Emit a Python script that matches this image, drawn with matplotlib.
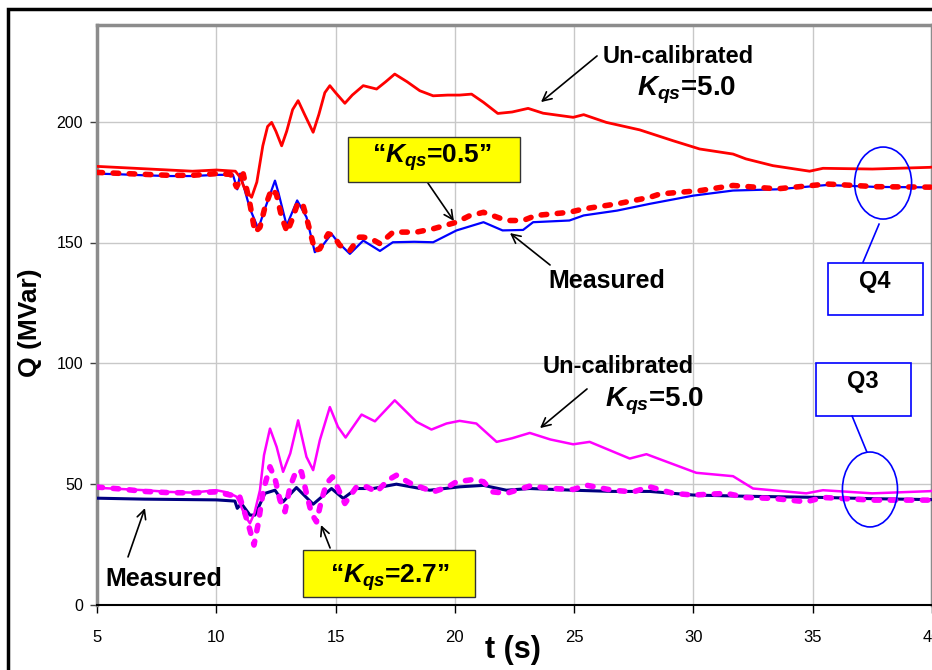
import matplotlib.pyplot as plt
from matplotlib.patches import Rectangle, Ellipse

# ---- data ----
# Q4 (upper group)
t_q4_uncal = [5.0, 6.0, 7.0, 8.0, 9.0, 10.0, 10.8, 11.0, 11.2, 11.48, 11.7, 11.95, 12.15, 12.32,
              12.5, 12.74, 12.95, 13.2, 13.43, 13.7, 14.06, 14.3, 14.55, 14.76, 15.0, 15.39, 15.7,
              16.16, 16.72, 17.1, 17.48, 18.0, 18.53, 19.09, 19.7, 20.2, 20.7, 21.2, 21.8, 22.4,
              23.07, 23.7, 24.96, 25.4, 26.35, 27.75, 29.15, 30.26, 31.66, 32.2, 33.33, 34.87,
              35.43, 37.5, 39.9, 40.0]
q4_uncal = [181.5, 181.0, 180.5, 180.0, 179.5, 180.0, 179.5, 177.0, 172.0, 168.7, 175.0, 190.0,
            198.0, 199.7, 196.0, 190.0, 196.0, 205.0, 208.7, 203.0, 195.6, 203.0, 212.0, 214.9,
            212.0, 207.6, 211.0, 214.9, 213.5, 216.5, 219.7, 216.5, 212.8, 210.7, 211.0, 211.0,
            211.4, 208.0, 203.4, 204.0, 205.5, 203.5, 201.8, 202.9, 199.7, 196.6, 192.1, 188.7,
            186.6, 184.6, 181.8, 179.5, 180.7, 180.4, 181.1, 181.2]

t_q4_k05 = [5.0, 6.0, 7.0, 8.0, 9.0, 10.0, 10.6, 10.85, 11.13, 11.41, 11.62, 11.83, 12.04, 12.32,
            12.52, 12.74, 12.97, 13.16, 13.43, 13.64, 13.85, 14.13, 14.34, 14.69, 14.9, 15.18,
            15.6, 16.0, 16.16, 16.5, 16.86, 17.41, 18.39, 19.1, 20.07, 20.6, 21.2, 22.16, 22.86,
            23.4, 24.8, 25.4, 26.8, 28.17, 28.6, 30.3, 31.66, 33.5, 35.6, 37.66, 39.9, 40.0]
q4_k05 = [179.0, 178.6, 178.2, 177.8, 177.8, 178.5, 178.2, 173.0, 178.4, 166.0, 154.3, 156.3,
          164.6, 172.2, 170.0, 160.5, 154.3, 159.0, 166.7, 165.3, 157.7, 146.7, 147.4, 153.6,
          153.0, 148.8, 146.7, 152.2, 152.2, 151.5, 149.5, 154.3, 154.3, 155.7, 158.4, 161.0,
          162.5, 159.1, 159.1, 161.2, 162.5, 163.9, 166.0, 168.7, 170.1, 171.5, 173.6, 172.2,
          174.2, 173.1, 172.9, 173.0]

t_q4_meas = [5.0, 6.0, 7.0, 8.0, 9.0, 10.0, 10.7, 10.88, 11.0, 11.41, 11.76, 12.04, 12.46, 12.6,
             12.95, 13.39, 13.78, 14.13, 14.4, 14.83, 15.1, 15.6, 16.16, 16.86, 17.4, 18.3,
             19.09, 20.07, 21.2, 22.0, 22.86, 23.28, 24.8, 25.4, 26.8, 28.17, 30.0, 31.66,
             33.5, 35.6, 37.66, 40.0]
q4_meas = [178.5, 178.2, 177.8, 177.5, 177.5, 178.0, 178.0, 172.0, 178.5, 164.0, 155.7, 164.0,
           175.6, 170.8, 157.0, 167.4, 160.5, 146.0, 148.0, 153.6, 150.1, 145.3, 150.8, 146.5,
           150.1, 150.3, 150.1, 155.0, 158.4, 155.0, 155.2, 158.4, 159.1, 161.2, 163.2, 166.0,
           169.4, 171.5, 172.0, 173.8, 173.0, 172.8]

# Q3 (lower group)
t_q3_uncal = [5.0, 6.0, 7.0, 8.0, 9.0, 10.0, 10.5, 10.85, 10.99, 11.2, 11.41, 11.6, 11.83, 12.0,
              12.25, 12.53, 12.8, 13.1, 13.43, 13.78, 14.06, 14.34, 14.76, 15.1, 15.42, 16.09,
              16.65, 17.48, 18.39, 19.02, 19.65, 20.2, 20.9, 21.75, 22.4, 23.14, 24.0, 24.96,
              25.65, 27.33, 28.03, 30.12, 31.66, 32.5, 34.73, 35.43, 37.5, 39.9, 40.0]
q3_uncal = [48.5, 48.0, 47.5, 46.8, 46.5, 47.5, 46.5, 44.8, 42.0, 37.0, 33.8, 38.0, 47.5, 62.0,
            73.0, 65.4, 55.1, 62.7, 76.4, 61.3, 55.8, 68.2, 81.9, 73.7, 69.3, 78.8, 76.0, 84.7,
            75.8, 72.6, 75.1, 76.2, 75.1, 67.5, 69.0, 71.2, 68.5, 66.5, 67.5, 60.6, 62.4, 54.7,
            53.3, 48.2, 46.2, 47.5, 46.2, 47.1, 47.2]

t_q3_k27 = [5.0, 6.0, 7.0, 8.0, 9.0, 10.0, 10.57, 10.96, 11.2, 11.41, 11.58, 11.76, 11.97, 12.25,
            12.46, 12.67, 12.88, 13.09, 13.36, 13.57, 13.78, 13.99, 14.2, 14.41, 14.62, 14.87,
            15.07, 15.39, 15.88, 16.3, 16.72, 17.2, 17.55, 18.11, 19.09, 19.72, 20.07, 20.77,
            21.2, 21.6, 22.16, 23.14, 24.1, 24.96, 25.5, 26.6, 27.47, 28.17, 29.15, 29.98,
            31.38, 32.2, 33.33, 34.73, 35.43, 37.5, 39.9, 40.0]
q3_k27 = [48.8, 48.0, 47.0, 46.5, 46.4, 46.8, 45.5, 45.5, 37.9, 31.0, 24.8, 33.8, 47.5, 57.2,
          52.3, 43.4, 38.6, 48.9, 55.8, 55.1, 46.2, 37.9, 34.4, 43.4, 50.3, 53.0, 48.9, 42.0,
          48.9, 48.9, 46.8, 51.7, 53.7, 50.5, 46.8, 48.9, 51.0, 51.9, 51.0, 46.8, 46.2, 49.2,
          48.2, 47.8, 49.6, 47.5, 46.8, 48.9, 46.2, 45.5, 46.2, 44.5, 44.1, 42.7, 44.5, 43.4,
          43.4, 43.4]

t_q3_meas = [5.0, 6.0, 7.0, 8.0, 9.0, 10.0, 10.78, 10.88, 11.05, 11.41, 11.62, 12.04, 12.46, 12.8,
             13.36, 14.06, 14.83, 15.32, 15.88, 16.57, 17.55, 18.95, 20.2, 21.2, 22.16, 23.14,
             24.96, 26.6, 28.17, 30.0, 32.2, 35.43, 37.5, 40.0]
q3_meas = [44.2, 44.0, 43.8, 43.7, 43.6, 43.5, 43.0, 40.0, 42.0, 37.2, 37.2, 46.2, 47.5, 42.7,
           48.6, 41.7, 48.2, 44.1, 48.2, 48.2, 50.0, 47.5, 48.9, 49.5, 47.5, 48.2, 47.5, 47.0,
           47.0, 45.5, 45.0, 44.5, 44.0, 43.6]

x_ticks = [5, 10, 15, 20, 25, 30, 35, 40]
y_ticks = [0, 50, 100, 150, 200]

# ---- style ----
plt.rcParams['font.family'] = ['Liberation Sans', 'DejaVu Sans']
plt.rcParams['mathtext.fontset'] = 'custom'
plt.rcParams['mathtext.it'] = 'Liberation Sans:italic:bold'
plt.rcParams['mathtext.rm'] = 'Liberation Sans:bold'
plt.rcParams['mathtext.bf'] = 'Liberation Sans:bold'

fig = plt.figure(figsize=(9.32, 6.70), dpi=100)
ax = fig.add_axes([97 / 932, 65 / 670, 835 / 932, 580 / 670])

dot = dict(linestyle=(0, (1.0, 1.9)), dash_capstyle='round', linewidth=4.0)

ax.plot(t_q4_meas, q4_meas, color='#0000FF', lw=1.6, zorder=3)
ax.plot(t_q4_uncal, q4_uncal, color='#FF0000', lw=2.0, zorder=3)
ax.plot(t_q4_k05, q4_k05, color='#FF0000', zorder=4, **dot)

ax.plot(t_q3_meas, q3_meas, color='#000080', lw=2.2, zorder=3)
ax.plot(t_q3_uncal, q3_uncal, color='#FF00FF', lw=1.8, zorder=3)
ax.plot(t_q3_k27, q3_k27, color='#FF00FF', zorder=4, **dot)

ax.set_xlim(5, 40)
ax.set_ylim(0, 240)
ax.set_xticks(x_ticks)
ax.set_yticks(y_ticks)
ax.grid(True, color='#C8C8C8', lw=1)
ax.set_axisbelow(True)

for s in ['left', 'top', 'right']:
    ax.spines[s].set_color('#8C8C8C')
    ax.spines[s].set_linewidth(2.5)
ax.spines['bottom'].set_color('black')
ax.spines['bottom'].set_linewidth(1.5)

ax.tick_params(axis='y', direction='out', length=5, width=1, color='#404040',
               labelsize=11.5, pad=5)
ax.tick_params(axis='x', direction='out', length=6, width=1, color='black',
               labelsize=12, pad=12)
for lab in ax.get_xticklabels():
    lab.set_family(['Liberation Sans Narrow', 'Liberation Sans'])

fig.text(30 / 932, 1 - 323 / 670, 'Q (MVar)', rotation=90, ha='center', va='center',
         fontsize=19, fontweight='bold')
fig.text(513 / 932, 1 - 650 / 670, 't (s)', ha='center', va='center',
         fontsize=22, fontweight='bold')

# outer frame
fig.patches.append(Rectangle((8 / 932, -0.1), 1.2, 1.1 - 9 / 670, transform=fig.transFigure,
                             fill=False, ec='black', lw=2.5, clip_on=False))

arrow = dict(arrowstyle='->', color='black', lw=1.2, shrinkA=0, shrinkB=0, mutation_scale=16)

# Q4 annotations
ax.text(29.37, 224.1, 'Un-calibrated', ha='center', va='baseline', fontsize=17, fontweight='bold')
ax.text(29.73, 211.0, '$K_{qs}$=5.0', ha='center', va='baseline', fontsize=20, fontweight='bold')
ax.annotate('', xy=(23.61, 208.1), xytext=(25.96, 227.2), arrowprops=arrow)

ax.add_patch(Rectangle((15.52, 175.0), 7.21, 18.7, fc='#FFFF00', ec='#333333', lw=1, zorder=5))
ax.text(19.03, 183.0, '\u201c$K_{qs}$=0.5\u201d', ha='center', va='baseline', fontsize=19,
        fontweight='bold', zorder=6)
ax.annotate('', xy=(19.96, 158.9), xytext=(18.87, 174.6), arrowprops=arrow)

ax.text(26.38, 131.0, 'Measured', ha='center', va='baseline', fontsize=18, fontweight='bold')
ax.annotate('', xy=(22.31, 153.9), xytext=(23.99, 140.7), arrowprops=arrow)

ax.add_patch(Ellipse((37.95, 174.6), 2.39, 29.8, fill=False, ec='#0000FF', lw=1.2, zorder=6))
ax.plot([37.78, 37.11], [157.6, 141.9], color='#0000FF', lw=1.2, zorder=6)
ax.add_patch(Rectangle((35.64, 120.0), 3.98, 21.5, fc='white', ec='#0000FF', lw=1.2, zorder=5))
ax.text(37.61, 131.0, 'Q4', ha='center', va='baseline', fontsize=17, fontweight='bold', zorder=6)

# Q3 annotations
ax.text(26.86, 95.9, 'Un-calibrated', ha='center', va='baseline', fontsize=17, fontweight='bold')
ax.text(28.37, 82.0, '$K_{qs}$=5.0', ha='center', va='baseline', fontsize=20, fontweight='bold')
ax.annotate('', xy=(23.57, 73.2), xytext=(25.54, 89.4), arrowprops=arrow)

ax.add_patch(Rectangle((13.63, 3.3), 7.21, 19.5, fc='#FFFF00', ec='#333333', lw=1, zorder=5))
ax.text(17.28, 9.3, '\u201c$K_{qs}$=2.7\u201d', ha='center', va='baseline', fontsize=19,
        fontweight='bold', zorder=6)
ax.annotate('', xy=(14.39, 33.1), xytext=(14.77, 23.6), arrowprops=arrow)

ax.text(7.81, 7.9, 'Measured', ha='center', va='baseline', fontsize=18, fontweight='bold')
ax.annotate('', xy=(7.01, 40.1), xytext=(6.30, 19.9), arrowprops=arrow)

ax.add_patch(Ellipse((37.4, 47.8), 2.31, 31.0, fill=False, ec='#0000FF', lw=1.2, zorder=6))
ax.plot([36.65, 37.27], [78.2, 63.3], color='#0000FF', lw=1.2, zorder=6)
ax.add_patch(Rectangle((35.14, 78.2), 3.98, 21.9, fc='white', ec='#0000FF', lw=1.2, zorder=5))
ax.text(37.11, 89.7, 'Q3', ha='center', va='baseline', fontsize=17, fontweight='bold', zorder=6)

fig.savefig('out.png', dpi=100)
